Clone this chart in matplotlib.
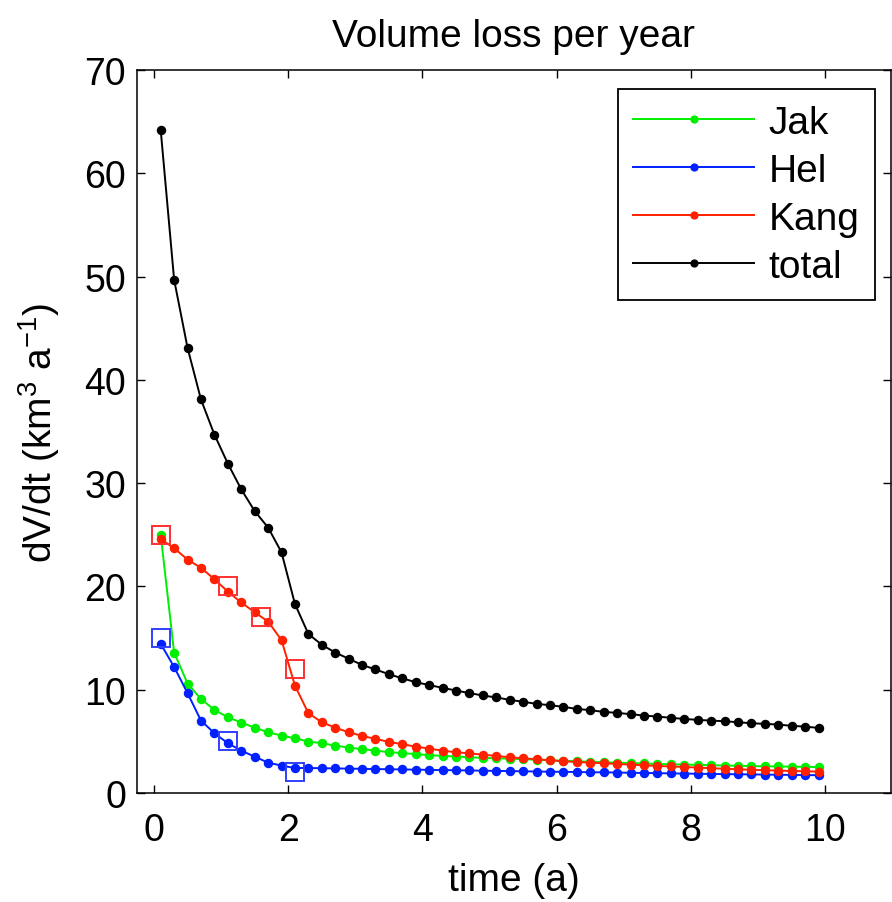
import matplotlib
matplotlib.use("Agg")
import matplotlib.pyplot as plt

plt.rcParams['font.family'] = ['Liberation Sans', 'DejaVu Sans']
plt.rcParams['mathtext.default'] = 'regular'

time = [0.1, 0.3, 0.5, 0.7, 0.9, 1.1, 1.3, 1.5, 1.7, 1.9,
        2.1, 2.3, 2.5, 2.7, 2.9, 3.1, 3.3, 3.5, 3.7, 3.9,
        4.1, 4.3, 4.5, 4.7, 4.9, 5.1, 5.3, 5.5, 5.7, 5.9,
        6.1, 6.3, 6.5, 6.7, 6.9, 7.1, 7.3, 7.5, 7.7, 7.9,
        8.1, 8.3, 8.5, 8.7, 8.9, 9.1, 9.3, 9.5, 9.7, 9.9]

jak = [25.0, 13.6, 10.6, 9.1, 8.05, 7.34, 6.82, 6.33, 5.88, 5.56,
       5.3, 4.98, 4.82, 4.59, 4.4, 4.24, 4.1, 3.96, 3.86, 3.77,
       3.66, 3.6, 3.52, 3.46, 3.4, 3.36, 3.32, 3.27, 3.22, 3.17,
       3.12, 3.07, 3.02, 2.98, 2.94, 2.9, 2.86, 2.82, 2.78, 2.75,
       2.72, 2.69, 2.66, 2.63, 2.61, 2.59, 2.57, 2.55, 2.53, 2.51]

hel = [14.45, 12.2, 9.67, 7.01, 5.79, 4.82, 4.1, 3.52, 2.94, 2.65,
       2.42, 2.42, 2.4, 2.38, 2.36, 2.34, 2.32, 2.3, 2.28, 2.26,
       2.24, 2.22, 2.2, 2.18, 2.16, 2.14, 2.12, 2.1, 2.08, 2.06,
       2.05, 2.03, 2.01, 2.0, 1.98, 1.96, 1.94, 1.92, 1.9, 1.88,
       1.86, 1.84, 1.83, 1.81, 1.8, 1.78, 1.77, 1.75, 1.74, 1.72]

kang = [24.6, 23.7, 22.6, 21.8, 20.7, 19.5, 18.45, 17.5, 16.6, 14.8,
        10.4, 7.73, 6.85, 6.33, 5.88, 5.53, 5.24, 4.95, 4.72, 4.49,
        4.3, 4.1, 3.94, 3.84, 3.71, 3.59, 3.46, 3.36, 3.27, 3.17,
        3.07, 3.0, 2.94, 2.88, 2.81, 2.75, 2.68, 2.62, 2.57, 2.52,
        2.46, 2.4, 2.35, 2.3, 2.25, 2.21, 2.17, 2.13, 2.1, 2.07]

total = [64.2, 49.7, 43.1, 38.1, 34.7, 31.9, 29.4, 27.3, 25.7, 23.3,
         18.3, 15.4, 14.35, 13.6, 13.0, 12.4, 11.96, 11.5, 11.1, 10.73,
         10.45, 10.18, 9.92, 9.67, 9.44, 9.25, 9.02, 8.83, 8.63, 8.5,
         8.34, 8.14, 8.02, 7.85, 7.76, 7.63, 7.5, 7.4, 7.28, 7.17,
         7.08, 7.01, 6.95, 6.85, 6.76, 6.69, 6.63, 6.5, 6.43, 6.3]

obs_kang_t = [0.1, 1.1, 1.6, 2.1]
obs_kang_v = [25, 20, 17, 12]
obs_hel_t = [0.1, 1.1, 2.1]
obs_hel_v = [15, 5, 2]

W, H = 892, 903
fig = plt.figure(figsize=(W / 100, H / 100), dpi=100)
ax = fig.add_axes([137 / W, (H - 794) / H, (891 - 137) / W, (794 - 71) / H])

lw = 1.4
ms = 5.8
ax.plot(time, jak, '-o', color='#00ee00', lw=lw, ms=ms, label='Jak')
ax.plot(time, hel, '-o', color='#0020ff', lw=lw, ms=ms, label='Hel')
ax.plot(time, kang, '-o', color='#ff2000', lw=lw, ms=ms, label='Kang')
ax.plot(time, total, '-o', color='black', lw=lw, ms=ms, label='total')

ax.plot(obs_kang_t, obs_kang_v, 's', ms=13.5, mfc='none', mec='#ff3030', mew=1.4, ls='none')
ax.plot(obs_hel_t, obs_hel_v, 's', ms=13.5, mfc='none', mec='#3040ff', mew=1.4, ls='none')

ax.set_xlim(-0.253, 10.98)
ax.set_ylim(0, 70)
ax.set_xticks([0, 2, 4, 6, 8, 10])
ax.set_yticks([0, 10, 20, 30, 40, 50, 60, 70])
ax.tick_params(direction='in', length=6, width=1, top=True, right=True,
               labelsize=27)
ax.tick_params(axis='x', pad=14)
ax.tick_params(axis='y', pad=8)
for s in ax.spines.values():
    s.set_linewidth(1.1)

ax.set_title('Volume loss per year', fontsize=28, pad=17)
ax.set_xlabel('time (a)', fontsize=28, labelpad=10)
ax.set_ylabel('dV/dt (km$^{3}$ a$^{-1}$)', fontsize=28, labelpad=16)

leg = ax.legend(loc='upper right', bbox_to_anchor=(875 / W, 1 - 90 / H),
                bbox_transform=fig.transFigure, borderaxespad=0,
                fontsize=28, handlelength=3.1, handletextpad=0.38,
                labelspacing=0.31, borderpad=0.4, fancybox=False,
                framealpha=1, edgecolor='black', markerscale=0.85)
leg.get_frame().set_linewidth(1.3)

fig.savefig('out.png', dpi=100)
